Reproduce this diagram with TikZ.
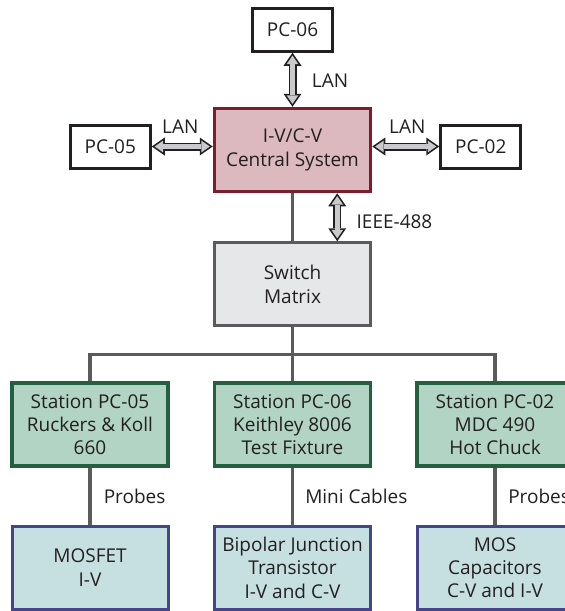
\documentclass[tikz,border=0pt]{standalone}
\usepackage{fontspec}
\setmainfont{Open Sans}
\usepackage{tikz}
\usetikzlibrary{positioning,arrows.meta,calc}

\definecolor{boxblack}{HTML}{231F20}
\definecolor{hubfill}{HTML}{DBB9BE}
\definecolor{hubdraw}{HTML}{7A1E2E}
\definecolor{swfill}{HTML}{E6E7E8}
\definecolor{wire}{HTML}{5B5B5D}
\definecolor{stfill}{HTML}{B2D4C4}
\definecolor{stdraw}{HTML}{24603F}
\definecolor{dvfill}{HTML}{C6E0E1}
\definecolor{dvdraw}{HTML}{45468A}
\definecolor{lanfill}{HTML}{C9CACC}

\begin{document}
\begin{tikzpicture}[x=1pt, y=1pt,
    every node/.style={font=\fontsize{19}{23.3}\selectfont, text=boxblack},
    box/.style={draw, align=center, inner sep=0pt, minimum width=156pt,
                minimum height=83pt, line width=3.5pt},
    pcbox/.style={box, draw=boxblack, fill=white, minimum width=80pt,
                  minimum height=43pt, line width=3pt},
    hub/.style={box, draw=hubdraw, fill=hubfill},
    swbox/.style={box, draw=wire, fill=swfill, line width=3pt},
    station/.style={box, draw=stdraw, fill=stfill},
    device/.style={box, draw=dvdraw, fill=dvfill, line width=3pt},
    wireline/.style={draw=wire, line width=3.5pt},
    lanout/.style={draw=boxblack, line width=8pt,
                   arrows={Triangle[length=13pt,width=18pt,line width=0pt]-Triangle[length=13pt,width=18pt,line width=0pt]}},
    lanin/.style={draw=lanfill, line width=4.8pt, shorten <=2.9pt, shorten >=2.9pt,
                  arrows={Triangle[length=8.4pt,width=11.6pt,line width=0pt]-Triangle[length=8.4pt,width=11.6pt,line width=0pt]}},
    lbl/.style={inner sep=0pt},
  ]
    \useasboundingbox (0,0) rectangle (565,-611);

    \node[hub] (cs) at (292.5,-150) {I-V/C-V\\Central System};
    \node[pcbox, above=54pt of cs] (pc06) {PC-06};
    \node[pcbox, left=61pt of cs, yshift=3.5pt] (pc05) {PC-05};
    \node[pcbox, right=67pt of cs, yshift=3.5pt] (pc02) {PC-02};
    \node[swbox, below=48pt of cs] (sw) {Switch\\Matrix};

    \node[station, below=54pt of sw] (st2) {Station PC-06\\Keithley 8006\\Test Fixture};
    \node[station, left=43pt of st2] (st1) {Station PC-05\\Ruckers \& Koll\\660};
    \node[station, right=43pt of st2] (st3) {Station PC-02\\MDC 490\\Hot Chuck};

    \node[device, below=57pt of st1] (dv1) {MOSFET\\I-V};
    \node[device, below=57pt of st2] (dv2) {Bipolar Junction\\Transistor\\I-V and C-V};
    \node[device, below=57pt of st3] (dv3) {MOS\\Capacitors\\C-V and I-V};

    % wiring from the central system down to the stations
    \coordinate (bus) at ($(sw.south)!0.5!(st2.north)$);
    \draw[wireline] (cs) -- (sw);
    \draw[wireline] (sw) -- (st2);
    \draw[wireline] (st1.north) |- (bus) -| (st3.north);
    \draw[wireline] (st1) -- (dv1) node[midway, lbl, anchor=base west, xshift=12pt, yshift=-7.5pt] (pr1) {Probes};
    \draw[wireline] (st2) -- (dv2) node[midway, lbl, anchor=base west, xshift=11pt, yshift=-7.5pt] (mc2) {Mini Cables};
    \draw[wireline] (st3) -- (dv3) node[midway, lbl, anchor=base west, xshift=11.5pt, yshift=-7.5pt] (pr3) {Probes};

    % LAN and GPIB links
    \draw[lanout] (pc06) -- (cs);
    \draw[lanin] (pc06) -- (cs) node[midway, lbl, anchor=base west, xshift=17pt, yshift=-8pt] (lan6) {LAN};
    \draw[lanout] (pc05.east) -- (pc05.east -| cs.west);
    \draw[lanin] (pc05.east) -- (pc05.east -| cs.west) node[midway, lbl, anchor=base, xshift=-2pt, yshift=13pt] (lan5) {LAN};
    \draw[lanout] (pc02.west) -- (pc02.west -| cs.east);
    \draw[lanin] (pc02.west) -- (pc02.west -| cs.east) node[midway, lbl, anchor=base, xshift=1.5pt, yshift=13pt] (lan2) {LAN};
    \draw[lanout] ([xshift=-35pt]cs.south east) -- ([xshift=-35pt]cs.south east |- sw.north);
    \draw[lanin] ([xshift=-35pt]cs.south east) -- ([xshift=-35pt]cs.south east |- sw.north) node[midway, lbl, anchor=base west, xshift=17pt, yshift=-11pt] (ieee) {IEEE-488};
\end{tikzpicture}
\end{document}
